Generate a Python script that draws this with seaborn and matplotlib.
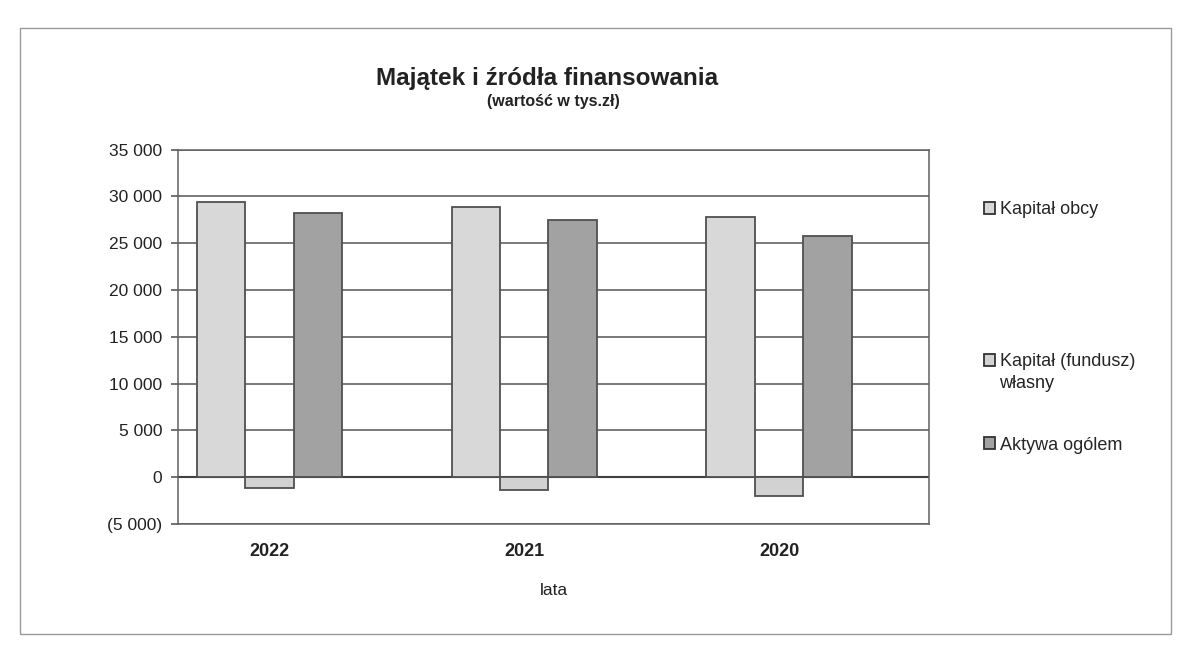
import matplotlib
matplotlib.use("Agg")
import matplotlib.pyplot as plt
from matplotlib.patches import Patch, Rectangle
from matplotlib.ticker import FuncFormatter
import seaborn as sns
import pandas as pd

# ---- data ----
years = ["2022", "2021", "2020"]
kapital_obcy = [29400, 28900, 27800]
kapital_wlasny = [-1200, -1400, -2000]
aktywa_ogolem = [28200, 27500, 25800]
series_names = ["Kapitał obcy", "Kapitał (fundusz)\nwłasny", "Aktywa ogólem"]
series_colors = ["#d8d8d8", "#d2d2d2", "#a2a2a2"]
y_ticks = list(range(-5000, 35001, 5000))

rows = []
for name, vals in zip(series_names, [kapital_obcy, kapital_wlasny, aktywa_ogolem]):
    for y, v in zip(years, vals):
        rows.append({"rok": y, "wartosc": v, "seria": name})
df = pd.DataFrame(rows)

sns.set_theme(style="white")
plt.rcParams["font.family"] = ["Liberation Sans", "DejaVu Sans"]

fig = plt.figure(figsize=(11.84, 6.65), dpi=100)
ax = fig.add_axes([0.150, 0.212, 0.635, 0.563])

sns.barplot(data=df, x="rok", y="wartosc", hue="seria", order=years,
            hue_order=series_names, palette=series_colors, width=0.57, gap=0,
            edgecolor="#505050", linewidth=1.3, legend=False, ax=ax, zorder=3)

ax.set_xlim(-0.36, 2.59)
ax.set_ylim(-5000, 35000)
ax.set_yticks(y_ticks)

def fmt(v, pos):
    s = f"{abs(int(v)):,}".replace(",", " ")
    return f"({s})" if v < 0 else s

ax.yaxis.set_major_formatter(FuncFormatter(fmt))
ax.yaxis.grid(True, color="#555555", linewidth=1.1)
ax.set_axisbelow(True)
ax.axhline(0, color="#404040", linewidth=1.5, zorder=2)
for sp in ax.spines.values():
    sp.set_visible(True)
    sp.set_color("#606060")
    sp.set_linewidth(1.1)

ax.tick_params(axis="y", length=5, color="#606060", labelsize=12.5, pad=6, left=True)
ax.tick_params(axis="x", length=0, labelsize=13, pad=14)
for lbl in ax.get_xticklabels():
    lbl.set_fontweight("bold")
    lbl.set_color("#222222")
for lbl in ax.get_yticklabels():
    lbl.set_color("#222222")
ax.set_ylabel("")
ax.set_xlabel("lata", fontsize=12.5, labelpad=16, color="#222222")

fig.text(0.462, 0.882, "Majątek i źródła finansowania", ha="center", va="center",
         fontsize=17.5, fontweight="bold", color="#222222")
fig.text(0.467, 0.847, "(wartość w tys.zł)", ha="center", va="center",
         fontsize=11.5, fontweight="bold", color="#222222")

legend_y = [210, 362, 445]
for name, col, yy in zip(series_names, series_colors, legend_y):
    parts = name.split("\n")
    h = Patch(facecolor=col, edgecolor="#333333", linewidth=1.3)
    fig.legend(handles=[h], labels=[parts[0]], loc="center left",
               bbox_to_anchor=(984 / 1184, 1 - yy / 665), frameon=False,
               handlelength=0.6, handleheight=0.6, handletextpad=0.3,
               fontsize=13, borderpad=0, borderaxespad=0)
    for extra_i, extra in enumerate(parts[1:], start=1):
        fig.text(999 / 1184, 1 - (yy + 22 * extra_i) / 665, extra, ha="left", va="center",
                 fontsize=13, color="#222222")

fig.add_artist(Rectangle((20 / 1184, 1 - 634 / 665), (1171 - 20) / 1184, (634 - 28) / 665,
                         transform=fig.transFigure, fill=False, edgecolor="#9a9a9a", linewidth=1.0))

fig.savefig("out.png", dpi=100, facecolor="white")
